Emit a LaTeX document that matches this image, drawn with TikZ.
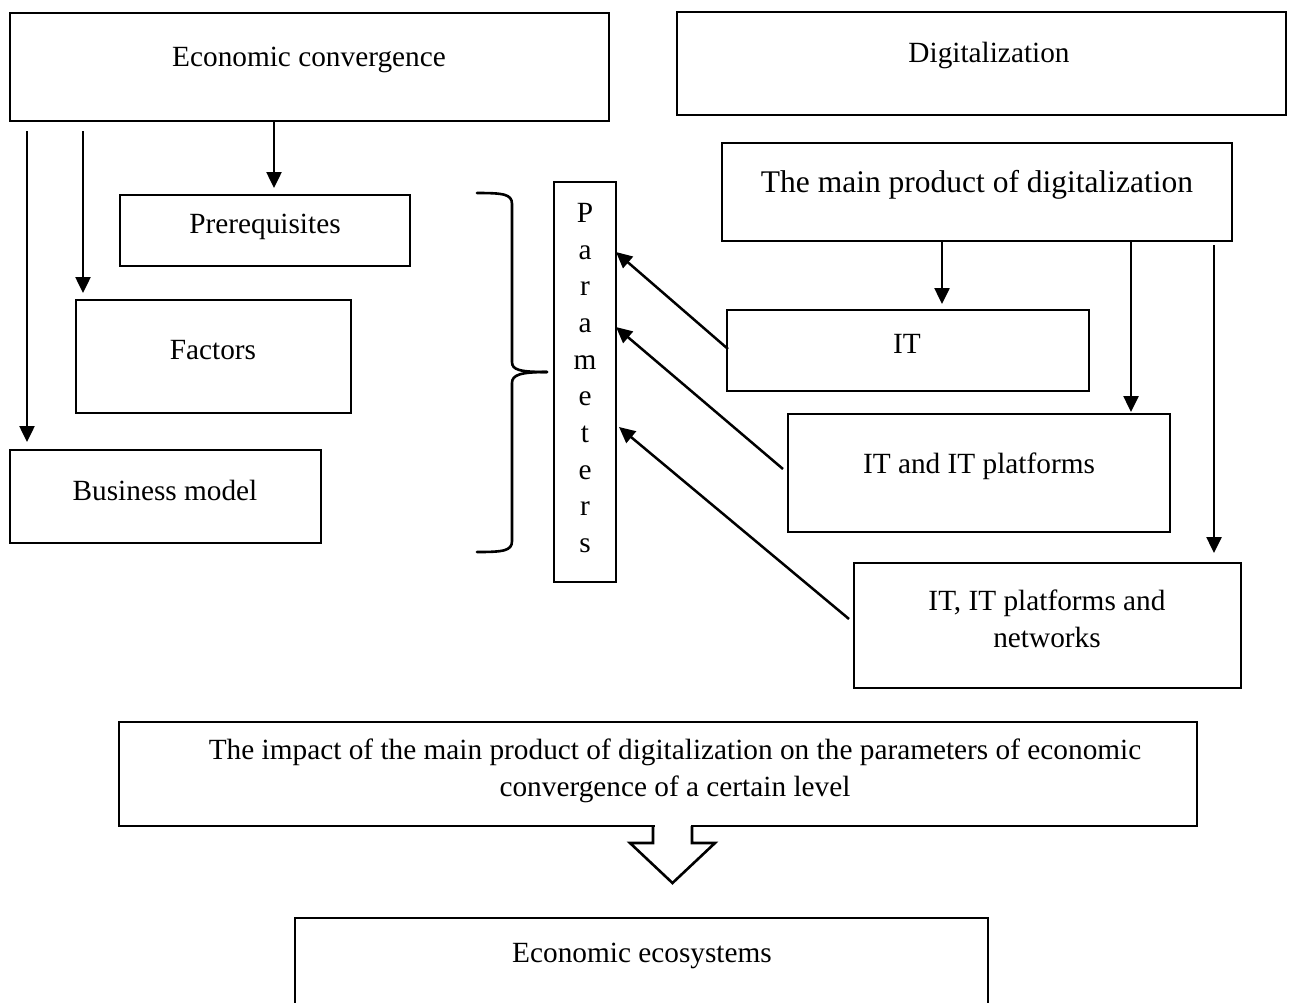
\documentclass[tikz,border=0pt]{standalone}
\usepackage{fontspec}
\setmainfont{Liberation Serif}
\usetikzlibrary{arrows.meta}
\begin{document}
\begin{tikzpicture}[x=1pt,y=-1pt,
  every node/.style={font=\fontsize{29.3}{36.5}\selectfont},
  box/.style={draw, line width=2.9pt, inner sep=0pt, outer sep=0pt, anchor=north west},
  lbl/.style={inner sep=0pt, align=center},
  conn/.style={line width=2.5pt, -{Triangle[length=16pt,width=15pt]}},
  bracepath/.style={line width=2.6pt, line cap=round}]
\useasboundingbox (0,0) rectangle (1301,1002);

% left column: economic convergence
\node[box, minimum width=599pt, minimum height=108pt] (ec) at (10,13) {};
\node[lbl] (ect) at (309,60) {Economic convergence};
\node[box, minimum width=290pt, minimum height=71pt] (pre) at (120,195) {};
\node[lbl] (pret) at (265,227) {Prerequisites};
\node[box, minimum width=275pt, minimum height=113pt] (fac) at (76,300) {};
\node[lbl] (fact) at (213,350) {Factors};
\node[box, minimum width=311pt, minimum height=93pt] (bm) at (10,450) {};
\node[lbl] (bmt) at (165,490) {Business model};

% parameters column
\node[box, minimum width=62pt, minimum height=400pt] (par) at (554,182) {};
\node[lbl, font=\fontsize{29.3}{36.7}\selectfont] (part) at (585,378) {P\\a\\r\\a\\m\\e\\t\\e\\r\\s};

% right column: digitalization
\node[box, minimum width=609pt, minimum height=103pt] (dig) at (677,12) {};
\node[lbl] (digt) at (989,55) {Digitalization};
\node[box, minimum width=510pt, minimum height=98pt] (mp) at (722,143) {};
\node[lbl, font=\fontsize{31.5}{38}\selectfont] (mpt) at (977,185) {The main product of digitalization};
\node[box, minimum width=362pt, minimum height=81pt] (it) at (727,310) {};
\node[lbl] (itt) at (907,344) {IT};
\node[box, minimum width=382pt, minimum height=118pt] (itp) at (788,414) {};
\node[lbl] (itpt) at (979,466) {IT and IT platforms};
\node[box, minimum width=387pt, minimum height=125pt] (net) at (854,563) {};
\node[lbl] (nett) at (1047,619) {IT, IT platforms and\\networks};

% bottom
\node[box, minimum width=1078pt, minimum height=104pt] (imp) at (119,722) {};
\node[lbl] (impt) at (675,771) {The impact of the main product of digitalization on the parameters of economic\\convergence of a certain level};
\node[box, minimum width=693pt, minimum height=110pt] (eco) at (295,918) {};
\node[lbl] (ecot) at (642,956) {Economic ecosystems};

% free ends of the arrows on the left
\coordinate (s1) at (27,131);
\coordinate (s2) at (83,131);
\coordinate (s3) at (1214,245);

% arrows from economic convergence
\draw[conn, shorten >=8pt] (s1) -- (s1 |- bm.north);
\draw[conn, shorten >=7pt] (s2) -- (s2 |- fac.north);
\draw[conn, shorten >=7pt] (ec.south -| 274,0) -- (pre.north -| 274,0);

% arrows from the main product
\draw[conn, shorten >=6pt] (mp.south -| 942,0) -- (it.north -| 942,0);
\draw[conn, shorten >=2pt] (mp.south -| 1131,0) -- (itp.north -| 1131,0);
\draw[conn, shorten >=10pt] (s3) -- (s3 |- net.north);

% arrows into the parameters
\draw[conn] ([xshift=1pt,yshift=1.5pt]it.west) -- (par.east |- 0,252);
\draw[conn] ([xshift=-5pt,yshift=4pt]itp.west) -- (par.east |- 0,327);
\draw[conn] ([xshift=-5pt,yshift=6.5pt]net.west) -- ([xshift=3pt]par.east |- 0,427);

% brace grouping the left boxes
\draw[bracepath] (477,193) .. controls (503,193) and (512,194) .. (512,204)
  -- (512,362) .. controls (512,370) and (520,372) .. (547,372);
\draw[bracepath] (547,372) .. controls (520,372) and (512,375) .. (512,383)
  -- (512,541) .. controls (512,551) and (503,552) .. (477,552);

% hollow block arrow from the impact box to the ecosystems
\coordinate (ha) at (672.5,826);
\fill[white] ([xshift=-18pt,yshift=-3pt]ha) rectangle ([xshift=18pt,yshift=3pt]ha);
\draw[line width=2.6pt, line join=miter] ([xshift=-19.5pt]ha) -- ++(0,17) -- ++(-23,0)
  -- (672.5,883) -- ++(42.5,-40) -- ++(-23,0) -- ([xshift=19.5pt]ha);
\end{tikzpicture}
\end{document}
